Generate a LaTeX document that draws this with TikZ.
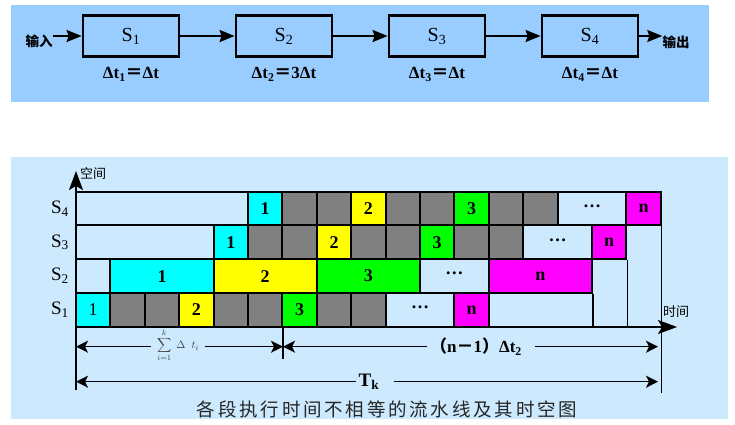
\documentclass[tikz,border=0pt]{standalone}
\usepackage{fontspec}
\setmainfont{Liberation Serif}
\newfontfamily\cjk{Noto Sans CJK SC}
\newfontfamily\cjkcap{Noto Sans CJK SC}[LetterSpace=15]
\usetikzlibrary{arrows.meta}
\definecolor{topbg}{HTML}{99CCFF}
\definecolor{botbg}{HTML}{CCE9FD}
\definecolor{cellgray}{HTML}{808080}
\definecolor{cellcyan}{HTML}{00FFFF}
\definecolor{cellyellow}{HTML}{FFFF00}
\definecolor{cellgreen}{HTML}{00FF00}
\definecolor{cellmag}{HTML}{FF00FF}
\definecolor{sumgray}{HTML}{444444}
\newcommand\celldots{\raisebox{0.28em}{\textbf{…}}}
\begin{document}
\begin{tikzpicture}[x=1pt,y=-1pt,
  stagebox/.style={draw,line width=2.8pt,minimum width=96pt,minimum height=41pt,inner sep=0pt,font=\fontsize{20}{20}\selectfont},
  flow/.style={line width=2pt,-{Stealth[length=15pt,width=12pt,inset=2pt]}},
  dtlabel/.style={font=\bfseries\fontsize{17}{17}\selectfont,inner sep=0pt},
  iolabel/.style={font=\cjk\bfseries\fontsize{13.5}{13.5}\selectfont,inner sep=0pt},
  cell/.style={draw,line width=2pt,inner sep=0pt,minimum height=33.75pt,font=\bfseries\fontsize{18}{18}\selectfont},
  rowlabel/.style={font=\fontsize{19}{19}\selectfont,inner sep=0pt},
  axis/.style={line width=1.3pt},
  axarrow/.style={line width=1.3pt,-{Stealth[length=19pt,width=14pt,inset=4pt]}},
  dim/.style={line width=1.3pt,-{Stealth[length=12pt,width=12pt,inset=3pt]}},
  guide/.style={line width=1.3pt},
  axlabel/.style={font=\cjk\fontsize{13}{13}\selectfont,inner sep=0pt},
  dimlabel/.style={font=\bfseries\fontsize{17}{17}\selectfont,inner ysep=0pt},
]
\useasboundingbox (0,0) rectangle (735,424);
% ---------- top panel ----------
\fill[topbg] (11,5) rectangle (709,102);
\node[stagebox] (s1) at (131,36) {S\textsubscript{1}};
\node[stagebox] (s2) at (284,36) {S\textsubscript{2}};
\node[stagebox] (s3) at (437,36) {S\textsubscript{3}};
\node[stagebox] (s4) at (590,36) {S\textsubscript{4}};
\node[dtlabel] (t1) at (131,74.5) {Δt\textsubscript{1}{\cjk ＝}Δt};
\node[dtlabel] (t2) at (284,74.5) {Δt\textsubscript{2}{\cjk ＝}3Δt};
\node[dtlabel] (t3) at (437,74.5) {Δt\textsubscript{3}{\cjk ＝}Δt};
\node[dtlabel] (t4) at (590,74.5) {Δt\textsubscript{4}{\cjk ＝}Δt};
\node[iolabel] (inl) at (39,41) {输入};
\node[iolabel] (outl) at (676,42) {输出};
\draw[flow] (inl.east |- s1.west) -- (s1.west);
\draw[flow] (s1.east) -- (s2.west);
\draw[flow] (s2.east) -- (s3.west);
\draw[flow] (s3.east) -- (s4.west);
\draw[flow] (s4.east) -- (outl.west |- s4.east);
% ---------- bottom panel ----------
\fill[botbg] (11,157) rectangle (728,419);
% row S4
\foreach \a/\b/\c/\t [count=\i, evaluate=\a as \w using (\b-\a)*34.4, evaluate=\a as \xc using 76+(\a+\b)/2*34.4] in
 {0/5/botbg/{},5/6/cellcyan/1,6/7/cellgray/{},7/8/cellgray/{},8/9/cellyellow/2,9/10/cellgray/{},10/11/cellgray/{},11/12/cellgreen/3,12/13/cellgray/{},13/14/cellgray/{},14/16/botbg/\celldots,16/17/cellmag/n}
 \node[cell,fill=\c,minimum width=\w pt] (r4c\i) at (\xc,208.6) {\t};
% row S3
\foreach \a/\b/\c/\t [count=\i, evaluate=\a as \w using (\b-\a)*34.4, evaluate=\a as \xc using 76+(\a+\b)/2*34.4] in
 {0/4/botbg/{},4/5/cellcyan/1,5/6/cellgray/{},6/7/cellgray/{},7/8/cellyellow/2,8/9/cellgray/{},9/10/cellgray/{},10/11/cellgreen/3,11/12/cellgray/{},12/13/cellgray/{},13/15/botbg/\celldots,15/16/cellmag/n}
 \node[cell,fill=\c,minimum width=\w pt] (r3c\i) at (\xc,242.3) {\t};
% row S2
\foreach \a/\b/\c/\t [count=\i, evaluate=\a as \w using (\b-\a)*34.4, evaluate=\a as \xc using 76+(\a+\b)/2*34.4] in
 {0/1/botbg/{},1/4/cellcyan/1,4/7/cellyellow/2,7/10/cellgreen/3,10/12/botbg/\celldots,12/15/cellmag/n}
 \node[cell,fill=\c,minimum width=\w pt] (r2c\i) at (\xc,276.1) {\t};
% row S1
\foreach \a/\b/\c/\t [count=\i, evaluate=\a as \w using (\b-\a)*34.4, evaluate=\a as \xc using 76+(\a+\b)/2*34.4] in
 {0/1/cellcyan/{\mdseries 1},1/2/cellgray/{},2/3/cellgray/{},3/4/cellyellow/2,4/5/cellgray/{},5/6/cellgray/{},6/7/cellgreen/3,7/8/cellgray/{},8/9/cellgray/{},9/11/botbg/\celldots,11/12/cellmag/n}
 \node[cell,fill=\c,minimum width=\w pt] (r1c\i) at (\xc,309.8) {\t};
% row labels
\node[rowlabel] (l4) at (60,208.6) {S\textsubscript{4}};
\node[rowlabel] (l3) at (60,242.3) {S\textsubscript{3}};
\node[rowlabel] (l2) at (60,276.1) {S\textsubscript{2}};
\node[rowlabel] (l1) at (60,309.8) {S\textsubscript{1}};
% axes
\coordinate (O) at (76,327);
\coordinate (ytip) at (76,171);
\coordinate (xtip) at (677,327);
\coordinate (Obot) at (76,390);
\draw[axarrow] (O) -- (ytip);
\draw[axarrow] (O) -- (xtip);
\draw[axis] (O) -- (Obot);
\node[axlabel,anchor=west] (ylab) at (80,174) {空间};
\node[axlabel,anchor=west] (xlab) at (663,312) {时间};
% finishing guides
\coordinate (endR) at (661.7,393);
\draw[guide] (r2c6.south east) -- (r2c6.south east |- O);
\draw[guide] (r3c12.south east) -- (r3c12.south east |- O);
\draw[guide] (r4c12.south east) -- (r4c12.south east |- endR);
% dimension lines
\coordinate (tickT) at (283,327);
\coordinate (tickB) at (283,359);
\draw[guide] (tickT) -- (tickB);
\coordinate (d1L) at (76,346.7);
\coordinate (d1R) at (283,346.7);
\coordinate (d2R) at (658,346.7);
\coordinate (d3L) at (76,381.7);
\coordinate (d3R) at (658,381.7);
\node[inner xsep=6pt,inner ysep=0pt,text=sumgray,font=\fontsize{11}{11}\selectfont] (sum) at (178,345.5) {$\displaystyle\sum_{i=1}^{k}\;\Delta\;\; t_i$};
\draw[dim] (sum.west |- d1L) -- (d1L);
\draw[dim] (sum.east |- d1R) -- (d1R);
\node[dimlabel,inner xsep=3pt] (nl) at (476,346.7) {{\cjk\bfseries （}n{\cjk\bfseries －}1{\cjk\bfseries ）}Δt\textsubscript{2}};
\draw[dim] (nl.west) -- (d1R);
\draw[dim] ([xshift=10pt]nl.east) -- (d2R);
\node[dimlabel,font=\bfseries\fontsize{19}{19}\selectfont,inner xsep=3pt] (tk) at (369,381.7) {T\textsubscript{k}};
\draw[dim] (tk.west) -- (d3L);
\draw[dim] ([xshift=12pt]tk.east) -- (d3R);
% caption
\node[font=\cjkcap\fontsize{18.5}{18.5}\selectfont,text=black!85,inner sep=0pt] (cap) at (387,409) {各段执行时间不相等的流水线及其时空图};
\end{tikzpicture}
\end{document}
